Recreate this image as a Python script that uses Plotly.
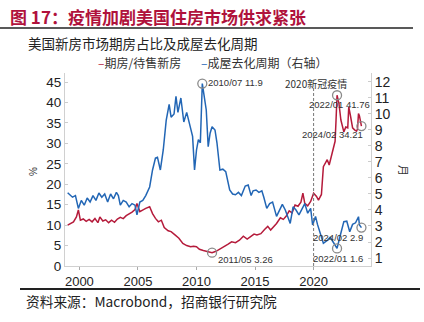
import plotly.graph_objects as go

# ---- data ----
red_dates = ["1999-01","1999-04","1999-07","1999-10","1999-12","2000-02","2000-05","2000-08","2000-11",
             "2001-02","2001-05","2001-08","2001-10","2002-01","2002-04","2002-07","2002-10","2003-01",
             "2003-04","2003-07","2003-10","2004-01","2004-04","2004-07","2004-10","2004-12","2005-03",
             "2005-06","2005-09","2006-01","2006-04","2006-07","2006-10","2007-01","2007-04","2007-08",
             "2007-11","2008-03","2008-07","2008-11","2009-03","2009-07","2009-10","2010-01","2010-04",
             "2010-08","2010-12","2011-05","2011-09","2012-01","2012-05","2012-09","2013-01","2013-05",
             "2013-09","2014-01","2014-05","2014-09","2014-12","2015-03","2015-07","2015-11","2016-02",
             "2016-05","2016-08","2016-11","2017-03","2017-06","2017-09","2017-12","2018-03","2018-06",
             "2018-09","2018-12","2019-02","2019-04","2019-07","2019-10","2020-01","2020-04","2020-06",
             "2020-09","2020-11","2021-01","2021-03","2021-05","2021-07","2021-09","2021-11","2021-12",
             "2022-01","2022-03","2022-05","2022-08","2022-10","2022-12","2023-01","2023-03","2023-05",
             "2023-07","2023-09","2023-10","2023-11","2023-12","2024-02"]
red_values = [10.0,10.3,10.8,12.0,13.7,11.2,11.5,10.9,11.4,
              10.8,11.6,10.6,12.0,11.0,11.3,10.6,11.2,10.7,
              11.5,11.9,11.6,12.3,12.7,13.2,13.8,15.3,13.3,
              13.8,14.1,14.5,12.8,11.65,10.8,11.2,9.4,8.6,
              8.4,7.6,6.8,5.5,5.0,4.7,4.8,4.7,4.1,
              3.8,3.6,3.26,3.6,4.1,4.6,5.3,5.9,5.7,
              6.3,7.3,6.6,7.2,7.8,7.6,7.9,9.0,9.7,
              8.8,9.6,10.4,11.8,11.4,12.2,13.5,13.0,14.9,
              14.6,15.6,17.8,15.3,14.7,15.8,17.8,17.0,16.1,
              17.5,24.3,25.1,26.0,24.7,26.7,28.4,30.5,35.7,
              41.76,39.8,35.7,32.8,34.0,33.8,38.9,36.5,33.8,
              33.3,33.0,33.5,37.3,36.7,34.21]

blue_dates = ["1999-01","1999-03","1999-06","1999-09","1999-12","2000-03","2000-06","2000-09","2000-12",
              "2001-03","2001-06","2001-09","2001-12","2002-03","2002-06","2002-09","2002-12","2003-03",
              "2003-05","2003-07","2003-10","2004-01","2004-04","2004-07","2004-10","2004-12","2005-03",
              "2005-06","2005-09","2006-01","2006-04","2006-07","2006-09","2006-12","2007-03","2007-06",
              "2007-09","2007-11","2008-02","2008-04","2008-06","2008-09","2008-12","2009-03","2009-06",
              "2009-09","2009-11","2010-01","2010-03","2010-05","2010-07","2010-09","2010-11","2011-01",
              "2011-03","2011-05","2011-08","2011-10","2012-01","2012-04","2012-07","2012-11","2013-02",
              "2013-05","2013-08","2013-11","2014-03","2014-06","2014-09","2014-11","2015-02","2015-05",
              "2015-08","2015-10","2016-01","2016-04","2016-07","2016-11","2017-02","2017-05","2017-08",
              "2018-01","2018-04","2018-07","2018-10","2019-01","2019-04","2019-07","2019-10","2019-12",
              "2020-03","2020-05","2020-08","2020-11","2021-03","2021-06","2021-09","2022-01","2022-04",
              "2022-08","2022-11","2023-02","2023-05","2023-08","2023-11","2023-12","2024-02"]
blue_values = [5.08,4.95,4.8,4.9,4.1,4.6,4.3,4.75,4.5,
               4.9,4.6,5.06,4.8,5.0,4.5,5.0,4.7,5.1,
               4.9,4.3,4.6,4.5,4.2,4.4,4.3,3.7,4.5,
               4.6,4.9,5.44,6.5,7.25,7.3,6.5,7.75,9.6,
               10.6,9.8,10.0,11.1,10.1,11.0,9.5,10.1,9.4,
               8.6,6.5,7.75,8.4,8.2,11.9,10.9,10.25,7.96,
               8.8,9.2,9.0,8.2,6.5,6.55,6.4,5.25,5.0,
               4.95,5.1,4.9,5.5,5.56,4.9,5.2,5.25,5.1,
               5.2,4.8,4.1,4.4,4.5,3.6,4.0,4.35,4.0,
               3.16,4.2,4.0,3.7,4.1,4.4,3.8,4.1,3.06,
               3.6,3.1,2.44,1.92,2.1,2.3,2.0,1.6,2.33,
               3.27,3.3,2.64,3.1,3.2,3.58,3.06,2.9]

red_marks_dates = ["2011-05", "2022-01", "2024-02"]
red_marks_values = [3.26, 41.76, 34.21]
red_marks_text = ["2011/05 3.26", "2022/01 41.76", "2024/02 34.21"]
blue_marks_dates = ["2010-07", "2022-01", "2024-02"]
blue_marks_values = [11.9, 1.6, 2.9]
blue_marks_text = ["2010/07 11.9", "2022/01 1.6", "2024/02 2.9"]

y_left_ticks = [0, 5, 10, 15, 20, 25, 30, 35, 40, 45]
y_right_ticks = [1, 2, 3, 4, 5, 6, 7, 8, 9, 10, 11, 12]
x_ticks = ["2000-01-01", "2005-01-01", "2010-01-01", "2015-01-01", "2020-01-01"]
x_tick_labels = ["2000", "2005", "2010", "2015", "2020"]

RED = "#B51B3B"
BLUE = "#2266B5"
TITLE_RED = "#B0123C"
CJK = "Noto Sans CJK SC"
SANS = "Liberation Sans, Arial"

W, H = 424, 322
L, R, T, B = 65, 53, 73, 56
PW, PH = W - L - R, H - T - B

def px(xp):
    return (xp - L) / PW

def py(yp):
    return (H - B - yp) / PH

fig = go.Figure()
fig.add_trace(go.Scatter(x=red_dates, y=red_values, mode="lines",
                         line=dict(color=RED, width=1.5), name="期房/待售新房",
                         yaxis="y"))
fig.add_trace(go.Scatter(x=blue_dates, y=blue_values, mode="lines",
                         line=dict(color=BLUE, width=1.5), name="成屋去化周期（右轴）",
                         yaxis="y2"))
fig.add_trace(go.Scatter(x=red_marks_dates, y=red_marks_values, mode="markers",
                         marker=dict(symbol="circle-open", size=9, color="#8a8a8a",
                                     line=dict(width=1.3, color="#8a8a8a")),
                         yaxis="y", showlegend=False))
fig.add_trace(go.Scatter(x=blue_marks_dates, y=blue_marks_values, mode="markers",
                         marker=dict(symbol="circle-open", size=9, color="#8a8a8a",
                                     line=dict(width=1.3, color="#8a8a8a")),
                         yaxis="y2", showlegend=False))

ann = []
label_font = dict(family=SANS, size=9.5, color="#333333")
# red annotations (left axis)
ann.append(dict(x=red_marks_dates[0], y=red_marks_values[0], xref="x", yref="y",
                text=red_marks_text[0], showarrow=False, xanchor="left", yanchor="middle",
                xshift=4, yshift=-7, font=label_font))
ann.append(dict(x=red_marks_dates[1], y=red_marks_values[1], xref="x", yref="y",
                text=red_marks_text[1], showarrow=False, xanchor="center", yanchor="middle",
                xshift=2, yshift=-9, font=label_font))
ann.append(dict(x=red_marks_dates[2], y=red_marks_values[2], xref="x", yref="y",
                text=red_marks_text[2], showarrow=False, xanchor="right", yanchor="middle",
                xshift=4, yshift=-8, font=label_font))
# blue annotations (right axis)
ann.append(dict(x=blue_marks_dates[0], y=blue_marks_values[0], xref="x", yref="y2",
                text=blue_marks_text[0], showarrow=False, xanchor="left", yanchor="middle",
                xshift=4, yshift=1, font=label_font))
ann.append(dict(x=blue_marks_dates[1], y=blue_marks_values[1], xref="x", yref="y2",
                text=blue_marks_text[1], showarrow=False, xanchor="center", yanchor="middle",
                xshift=1, yshift=-10, font=label_font))
ann.append(dict(x=blue_marks_dates[2], y=blue_marks_values[2], xref="x", yref="y2",
                text=blue_marks_text[2], showarrow=False, xanchor="right", yanchor="middle",
                xshift=4, yshift=-10, font=label_font))
# covid label
ann.append(dict(x="2020-03-01", y=py(83), xref="x", yref="paper", text="2020新冠疫情",
                showarrow=False, xanchor="center", yanchor="middle",
                font=dict(family=CJK, size=10, color="#333333")))
# title, subtitle, legend, source
ann.append(dict(x=px(8), y=py(16), xref="paper", yref="paper",
                text="<b>图 17：疫情加剧美国住房市场供求紧张</b>", showarrow=False,
                xanchor="left", yanchor="middle",
                font=dict(family=CJK, size=17, color=TITLE_RED)))
ann.append(dict(x=px(26), y=py(43), xref="paper", yref="paper",
                text="美国新房市场期房占比及成屋去化周期", showarrow=False,
                xanchor="left", yanchor="middle",
                font=dict(family=CJK, size=13.5, color="#222222")))
ann.append(dict(x=px(96), y=py(62), xref="paper", yref="paper",
                text=f"<span style='color:{RED}'>–</span>期房/待售新房",
                showarrow=False, xanchor="left", yanchor="middle",
                font=dict(family=CJK, size=12, color="#333333")))
ann.append(dict(x=px(199), y=py(62), xref="paper", yref="paper",
                text=f"<span style='color:{BLUE}'>–</span>成屋去化周期（右轴）",
                showarrow=False, xanchor="left", yanchor="middle",
                font=dict(family=CJK, size=12, color="#333333")))
ann.append(dict(x=px(24), y=py(301), xref="paper", yref="paper",
                text="资料来源：Macrobond，招商银行研究院", showarrow=False,
                xanchor="left", yanchor="middle",
                font=dict(family=CJK, size=13.7, color="#222222")))
ann.append(dict(x=px(33), y=py(172), xref="paper", yref="paper", text="%",
                showarrow=False, textangle=-90, xanchor="center", yanchor="middle",
                font=dict(family=SANS, size=10, color="#333333")))
ann.append(dict(x=px(404), y=py(170), xref="paper", yref="paper", text="月",
                showarrow=False, textangle=90, xanchor="center", yanchor="middle",
                font=dict(family=CJK, size=11, color="#333333")))

shapes = [
    dict(type="line", xref="paper", yref="paper", x0=px(0), x1=px(413), y0=py(28), y1=py(28),
         line=dict(color="#222222", width=1.5)),
    dict(type="line", xref="paper", yref="paper", x0=px(20), x1=px(420), y0=py(289), y1=py(289),
         line=dict(color="#222222", width=2)),
    dict(type="line", xref="x", yref="paper", x0="2020-01-01", x1="2020-01-01",
         y0=0, y1=py(88), line=dict(color="#777777", width=1, dash="3px,2px")),
]

fig.update_layout(
    width=W, height=H,
    margin=dict(l=L, r=R, t=T, b=B, pad=0),
    paper_bgcolor="white", plot_bgcolor="white",
    showlegend=False,
    font=dict(family=SANS, size=13, color="#222222"),
    xaxis=dict(type="date", range=["1998-10-10", "2024-11-25"],
               tickvals=x_ticks, ticktext=x_tick_labels,
               showgrid=False, zeroline=False, showline=True, linecolor="#d0d0d0", linewidth=1,
               ticks="outside", ticklen=3, tickcolor="#aaaaaa",
               tickfont=dict(family=SANS, size=13, color="#222222")),
    yaxis=dict(range=[0, 47.2], tickvals=y_left_ticks, showgrid=False, zeroline=False,
               showline=True, linecolor="#d0d0d0", linewidth=1,
               ticks="inside", ticklen=3, tickcolor="#cccccc",
               tickfont=dict(family=SANS, size=13.5, color="#222222")),
    yaxis2=dict(range=[0.5, 12.56], tickvals=y_right_ticks, overlaying="y", side="right",
                showgrid=False, zeroline=False, showline=True, linecolor="#d0d0d0", linewidth=1,
                ticks="inside", ticklen=3, tickcolor="#cccccc",
                tickfont=dict(family=SANS, size=14, color="#222222")),
    annotations=ann,
    shapes=shapes,
)

fig.write_html("out.html")
